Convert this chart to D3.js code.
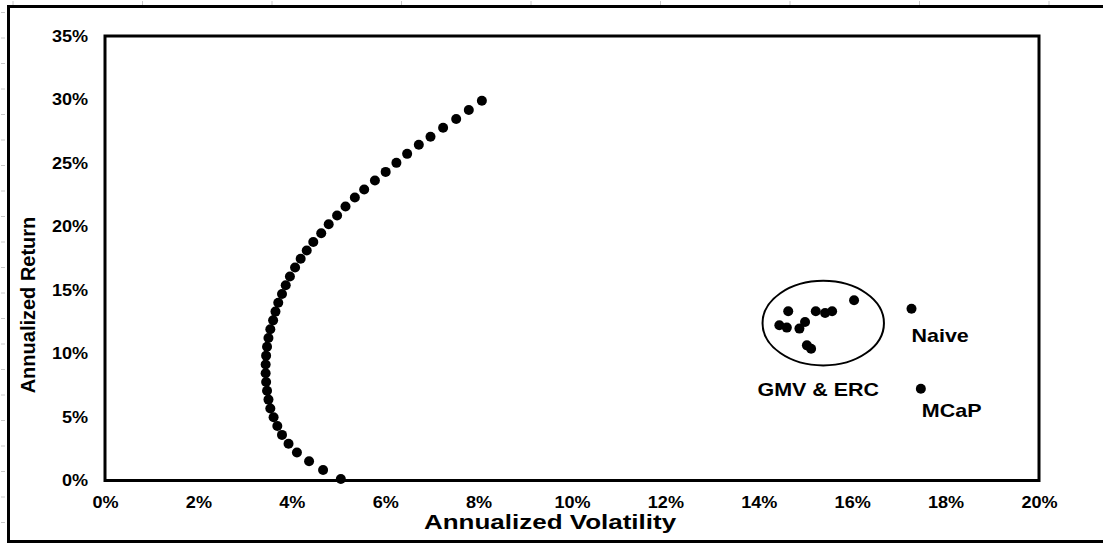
<!DOCTYPE html>
<html>
<head>
<meta charset="utf-8">
<script src="https://cdn.jsdelivr.net/npm/d3@7"></script>
<style>
	html, body { margin: 0; padding: 0; background: #fff; }
	text { font-family: "Liberation Sans", Arial, sans-serif; font-weight: bold; fill: #000; }
</style>
</head>
<body>
<div id="chart"></div>
<script>
// efficient frontier, in percent
var frontierVol = [8.07, 7.79, 7.52, 7.24, 6.97, 6.72, 6.47, 6.24, 6.01, 5.78, 5.55, 5.35, 5.15, 4.97, 4.79,
	4.63, 4.46, 4.32, 4.19, 4.07, 3.96, 3.87, 3.79, 3.71, 3.65, 3.60, 3.54, 3.50, 3.47, 3.45, 3.44,
	3.44, 3.45, 3.47, 3.50, 3.54, 3.61, 3.69, 3.79, 3.93, 4.11, 4.37, 4.67, 5.05];
var frontierRet = [29.90, 29.17, 28.46, 27.77, 27.06, 26.43, 25.72, 25.01, 24.30, 23.62, 22.92, 22.28, 21.58, 20.87, 20.18,
	19.47, 18.78, 18.11, 17.46, 16.77, 16.07, 15.38, 14.69, 13.99, 13.30, 12.61, 11.91, 11.22, 10.53, 9.83, 9.14,
	8.45, 7.75, 7.06, 6.37, 5.67, 4.98, 4.29, 3.59, 2.90, 2.21, 1.51, 0.82, 0.12];

// GMV & ERC portfolios
var clusterVol = [14.63, 14.44, 14.60, 14.87, 14.99, 15.22, 15.42, 15.57, 16.04, 15.03, 15.12];
var clusterRet = [13.32, 12.22, 12.04, 11.96, 12.48, 13.32, 13.19, 13.32, 14.19, 10.64, 10.38];

var naivePoint = [17.27, 13.53];
var mcapPoint = [17.47, 7.23];

var xTicks = [0, 2, 4, 6, 8, 10, 12, 14, 16, 18, 20];
var yTicks = [0, 5, 10, 15, 20, 25, 30, 35];

var W = 1103, H = 543;
var stretch = 1.13; // the text in the original is a bit wide

var svg = d3.select("#chart").append("svg")
	.attr("width", W)
	.attr("height", H);

var x = d3.scaleLinear().domain([0, 20]).range([105, 1039]);
var y = d3.scaleLinear().domain([0, 35]).range([480.5, 36]);

// wide bold label at (px, py)
function label(px, py, str, size, anchor, sx) {
	return svg.append("text")
		.attr("transform", "translate(" + px + "," + py + ") scale(" + (sx || stretch) + ",1)")
		.attr("text-anchor", anchor || "start")
		.style("font-size", size + "px")
		.text(str);
}

// faint ruler marks around the page
svg.append("g").selectAll("line").data(d3.range(13, 1103, 129.5)).join("line")
	.attr("x1", d => d).attr("x2", d => d)
	.attr("y1", 1).attr("y2", 5)
	.attr("stroke", "#c8c8c8").attr("stroke-width", 1);
svg.append("g").selectAll("line").data(d3.range(12.5, 543, 25.5)).join("line")
	.attr("x1", 1).attr("x2", 5)
	.attr("y1", d => d).attr("y2", d => d)
	.attr("stroke", "#c8c8c8").attr("stroke-width", 1);

// outer border (right edge runs off the picture)
svg.append("path")
	.attr("d", "M1110,6.5 H8.5 V541.5 H1110")
	.attr("fill", "none")
	.attr("stroke", "#000")
	.attr("stroke-width", 3);

// axes
var xAxis = svg.append("g")
	.attr("transform", "translate(0," + y(0) + ")")
	.call(d3.axisBottom(x).tickValues(xTicks).tickSize(0).tickPadding(16).tickFormat(d => d + "%"));
var yAxis = svg.append("g")
	.attr("transform", "translate(" + x(0) + ",0)")
	.call(d3.axisLeft(y).tickValues(yTicks).tickSize(0).tickPadding(15).tickFormat(d => d + "%"));

[xAxis, yAxis].forEach(function(ax) {
	ax.select(".domain").remove();
	ax.selectAll("text")
		.attr("transform", "scale(" + stretch + ",1)")
		.style("font-family", "'Liberation Sans', Arial, sans-serif")
		.style("font-weight", "bold")
		.style("font-size", "16px")
		.attr("fill", "#000");
});

// plot frame
svg.append("rect")
	.attr("x", x(0))
	.attr("y", y(35))
	.attr("width", x(20) - x(0))
	.attr("height", y(0) - y(35))
	.attr("fill", "none")
	.attr("stroke", "#000")
	.attr("stroke-width", 3);

// axis titles
label(550, 529, "Annualized Volatility", 20, "middle", 1.3);

svg.append("text")
	.attr("transform", "translate(35,305) rotate(-90)")
	.attr("text-anchor", "middle")
	.style("font-size", "20px")
	.text("Annualized Return");

// frontier dots
svg.append("g").selectAll("circle")
	.data(frontierVol.map((v, i) => [v, frontierRet[i]]))
	.join("circle")
	.attr("cx", d => x(d[0]))
	.attr("cy", d => y(d[1]))
	.attr("r", 5)
	.attr("fill", "#000");

// GMV & ERC cluster
svg.append("g").selectAll("circle")
	.data(clusterVol.map((v, i) => [v, clusterRet[i]]))
	.join("circle")
	.attr("cx", d => x(d[0]))
	.attr("cy", d => y(d[1]))
	.attr("r", 5)
	.attr("fill", "#000");

// ellipse round the cluster
var ex = 15.38, ey = 12.39;
svg.append("ellipse")
	.attr("cx", x(ex))
	.attr("cy", y(ey))
	.attr("rx", x(ex + 1.30) - x(ex))
	.attr("ry", y(ey) - y(ey + 3.33))
	.attr("fill", "none")
	.attr("stroke", "#000")
	.attr("stroke-width", 2);

label(x(ex) - 5, 396, "GMV & ERC", 19, "middle");

// Naive and MCaP
svg.selectAll(".single").data([naivePoint, mcapPoint]).join("circle")
	.attr("class", "single")
	.attr("cx", d => x(d[0]))
	.attr("cy", d => y(d[1]))
	.attr("r", 5)
	.attr("fill", "#000");

label(x(naivePoint[0]), y(naivePoint[1]) + 33, "Naive", 19);
label(x(mcapPoint[0]) + 1, y(mcapPoint[1]) + 28.5, "MCaP", 19);
</script>
</body>
</html>
